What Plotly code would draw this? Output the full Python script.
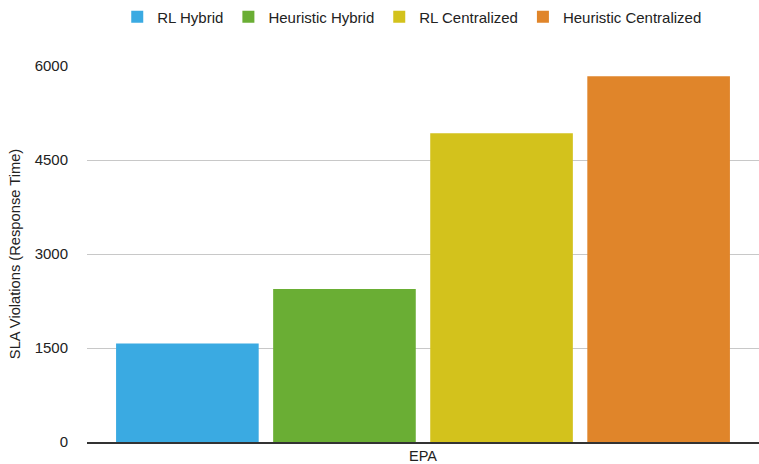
import plotly.graph_objects as go

categories = ["EPA"]
series_names = ["RL Hybrid", "Heuristic Hybrid", "RL Centralized", "Heuristic Centralized"]
series_values = [[1572], [2443], [4928], [5836]]
colors = ["#3aaae2", "#6aae34", "#d3c21c", "#e0852a"]
y_ticks = [0, 1500, 3000, 4500, 6000]

fig = go.Figure()
for name, vals, col in zip(series_names, series_values, colors):
    fig.add_trace(go.Bar(x=categories, y=vals, name=name,
                         marker=dict(color=col, line=dict(width=0))))

FONT = "Liberation Sans, Arial, Helvetica, sans-serif"
fig.update_layout(
    width=759, height=464,
    margin=dict(l=87, r=0, t=66, b=22, autoexpand=False),
    paper_bgcolor="white", plot_bgcolor="white",
    barmode="group", bargap=0.065, bargroupgap=0.092,
    font=dict(family=FONT, size=14, color="#222222"),
    legend=dict(orientation="h", x=0.484, xanchor="center", y=1.13, yanchor="middle",
                font=dict(size=15, color="#222222"), itemwidth=30, traceorder="normal"),
    showlegend=True,
)
fig.update_xaxes(showgrid=False, showline=True, linecolor="#333333", linewidth=1.5,
                 automargin=False,
                 ticks="", tickfont=dict(size=14.5, color="#222222"), ticklabelstandoff=0)
fig.update_yaxes(range=[0, 6000], tickvals=y_ticks, ticktext=[str(v) for v in y_ticks],
                 automargin=False,
                 showgrid=True, gridcolor="#c8c8c8", gridwidth=1, zeroline=False,
                 showline=False, ticks="", ticklabelstandoff=18,
                 tickfont=dict(size=15, color="#222222"),
                 title=dict(text="SLA Violations (Response Time)", font=dict(size=14.7, color="#222222"),
                            standoff=10))

fig.write_html("out.html")
